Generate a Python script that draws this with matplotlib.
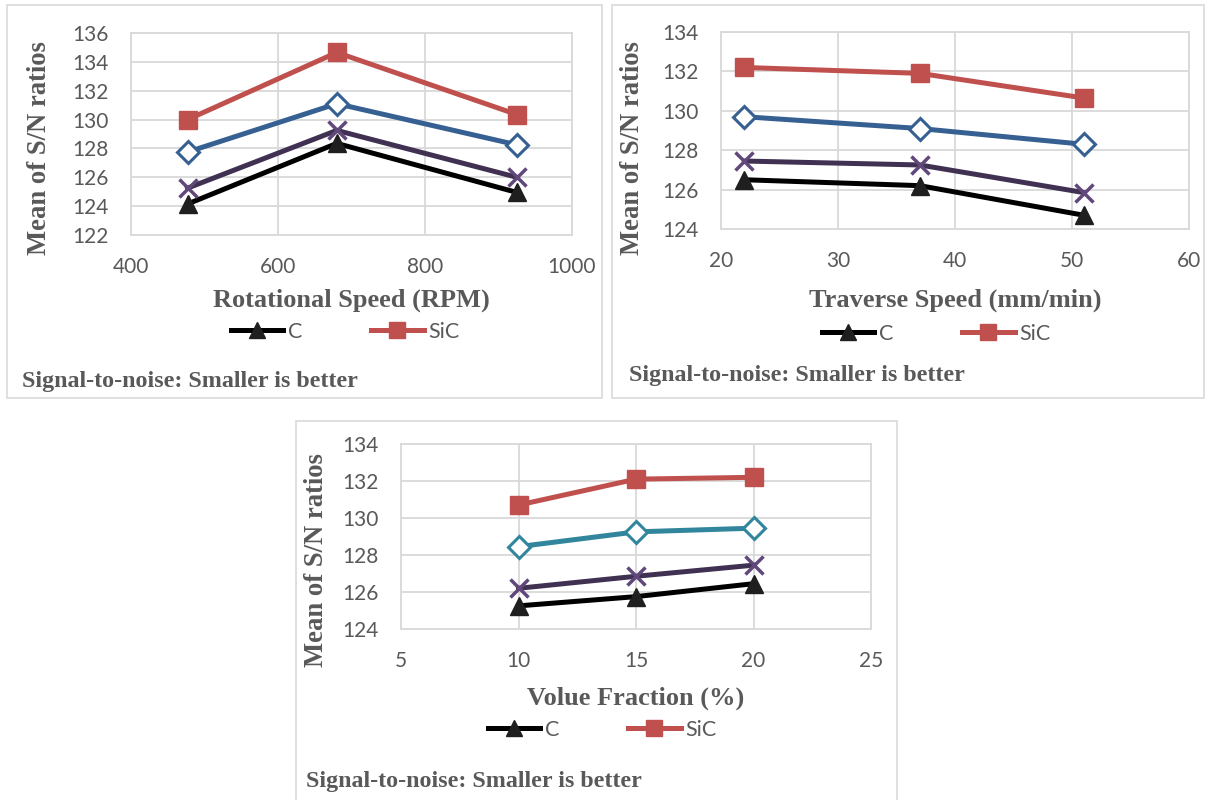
import matplotlib.pyplot as plt
from matplotlib.lines import Line2D
from matplotlib.patches import Rectangle

# data
rot_speed = [477, 680, 925]
rot_sic = [130.0, 134.65, 130.35]
rot_blue = [127.75, 131.1, 128.25]
rot_purple = [125.25, 129.25, 126.0]
rot_c = [124.15, 128.35, 124.95]

trav_speed = [22, 37, 51]
trav_sic = [132.2, 131.9, 130.65]
trav_blue = [129.7, 129.1, 128.3]
trav_purple = [127.45, 127.25, 125.85]
trav_c = [126.5, 126.2, 124.7]

vol_frac = [10, 15, 20]
vol_sic = [130.7, 132.1, 132.2]
vol_teal = [128.45, 129.25, 129.45]
vol_purple = [126.2, 126.85, 127.45]
vol_c = [125.25, 125.75, 126.45]

footer = "Signal-to-noise: Smaller is better"
ylab = "Mean of S/N ratios"

RED = "#C0504D"
BLUE = "#376092"
TEAL = "#31859C"
PURPLE = "#403152"
PURPLE_M = "#60497A"
GRAY = "#595959"
GRID = "#D9D9D9"

W, H = 1206, 800
fig = plt.figure(figsize=(12.06, 8), dpi=100)


def px_rect(x0, y0, x1, y1):
    # pixel box (top-left origin) -> figure fraction [l, b, w, h]
    return [x0 / W, 1 - y1 / H, (x1 - x0) / W, (y1 - y0) / H]


def frame(x0, y0, x1, y1):
    l, b, w, h = px_rect(x0, y0, x1, y1)
    fig.patches.append(Rectangle((l, b), w, h, transform=fig.transFigure,
                                 fill=False, edgecolor=GRID, lw=1.2, zorder=0))


def panel(box, x, series, xlim, xticks, ylim, yticks, xlabel,
          ylab_xy, xlab_y, leg_xy, foot_xy):
    ax = fig.add_axes(px_rect(*box))
    lw = 3.6
    ax.plot(x, series[3], color="black", lw=lw, marker="^", ms=12.5,
            mfc="#1F1F1F", mec="#1F1F1F", zorder=3)
    ax.plot(x, series[2], color=PURPLE, lw=lw, marker="x", ms=13,
            mec=PURPLE_M, mew=2.5, zorder=4)
    ax.plot(x, series[1], color=series[4], lw=lw, marker="D", ms=11,
            mfc="white", mec=series[4], mew=2.2, zorder=5)
    ax.plot(x, series[0], color=RED, lw=lw, marker="s", ms=12.5,
            mfc=RED, mec=RED, zorder=6)
    ax.set_xlim(*xlim)
    ax.set_ylim(*ylim)
    ax.set_xticks(xticks)
    ax.set_yticks(yticks)
    ax.grid(True, color=GRID, lw=1.3)
    ax.set_axisbelow(True)
    for sp in ax.spines.values():
        sp.set_color(GRID)
        sp.set_linewidth(1.3)
    ax.tick_params(length=0, labelsize=15, labelcolor=GRAY)
    ax.tick_params(axis="y", pad=16)
    ax.tick_params(axis="x", pad=16)
    for t in ax.get_xticklabels() + ax.get_yticklabels():
        t.set_family("Lato")
    ax.set_ylabel(ylab, family="Liberation Serif", weight="bold",
                  fontsize=19.2, color=GRAY)
    ax.yaxis.set_label_coords(*ylab_xy)
    ax.set_xlabel(xlabel, family="Liberation Serif", weight="bold",
                  fontsize=19, color=GRAY)
    ax.xaxis.set_label_coords(0.5, xlab_y)
    h1 = Line2D([], [], color="black", lw=lw, marker="^", ms=12,
                mfc="#1F1F1F", mec="#1F1F1F")
    h2 = Line2D([], [], color=RED, lw=lw, marker="s", ms=12,
                mfc=RED, mec=RED)
    fig.legend([h1, h2], ["C", "SiC"], loc="center",
               bbox_to_anchor=(leg_xy[0] / W, 1 - leg_xy[1] / H),
               ncol=2, frameon=False, handlelength=2.45, columnspacing=3.2,
               handletextpad=0.2,
               prop={"family": "Lato", "size": 15.5}, labelcolor=GRAY)
    fig.text(foot_xy[0] / W, 1 - foot_xy[1] / H, footer,
             family="Liberation Serif", weight="bold", fontsize=17.3,
             color=GRAY, va="center", ha="left")
    return ax


frame(7, 5, 602, 398)
frame(612, 5, 1204, 398)
frame(296, 421, 897, 812)

panel((131, 33, 572, 235), rot_speed,
      [rot_sic, rot_blue, rot_purple, rot_c, BLUE],
      (400, 1000), [400, 600, 800, 1000], (122, 136), range(122, 137, 2),
      "Rotational Speed (RPM)", (-0.179, 0.43), -0.267, (345, 332), (22, 382))

panel((721, 32, 1189, 229), trav_speed,
      [trav_sic, trav_blue, trav_purple, trav_c, BLUE],
      (20, 60), [20, 30, 40, 50, 60], (124, 134), range(124, 135, 2),
      "Traverse Speed (mm/min)", (-0.163, 0.41), -0.30, (936, 334), (629, 375))

panel((401, 444, 871, 629), vol_frac,
      [vol_sic, vol_teal, vol_purple, vol_c, TEAL],
      (5, 25), [5, 10, 15, 20, 25], (124, 134), range(124, 135, 2),
      "Volue Fraction (%)", (-0.154, 0.37), -0.313, (602, 730), (306, 782))

fig.savefig("out.png", dpi=100)
